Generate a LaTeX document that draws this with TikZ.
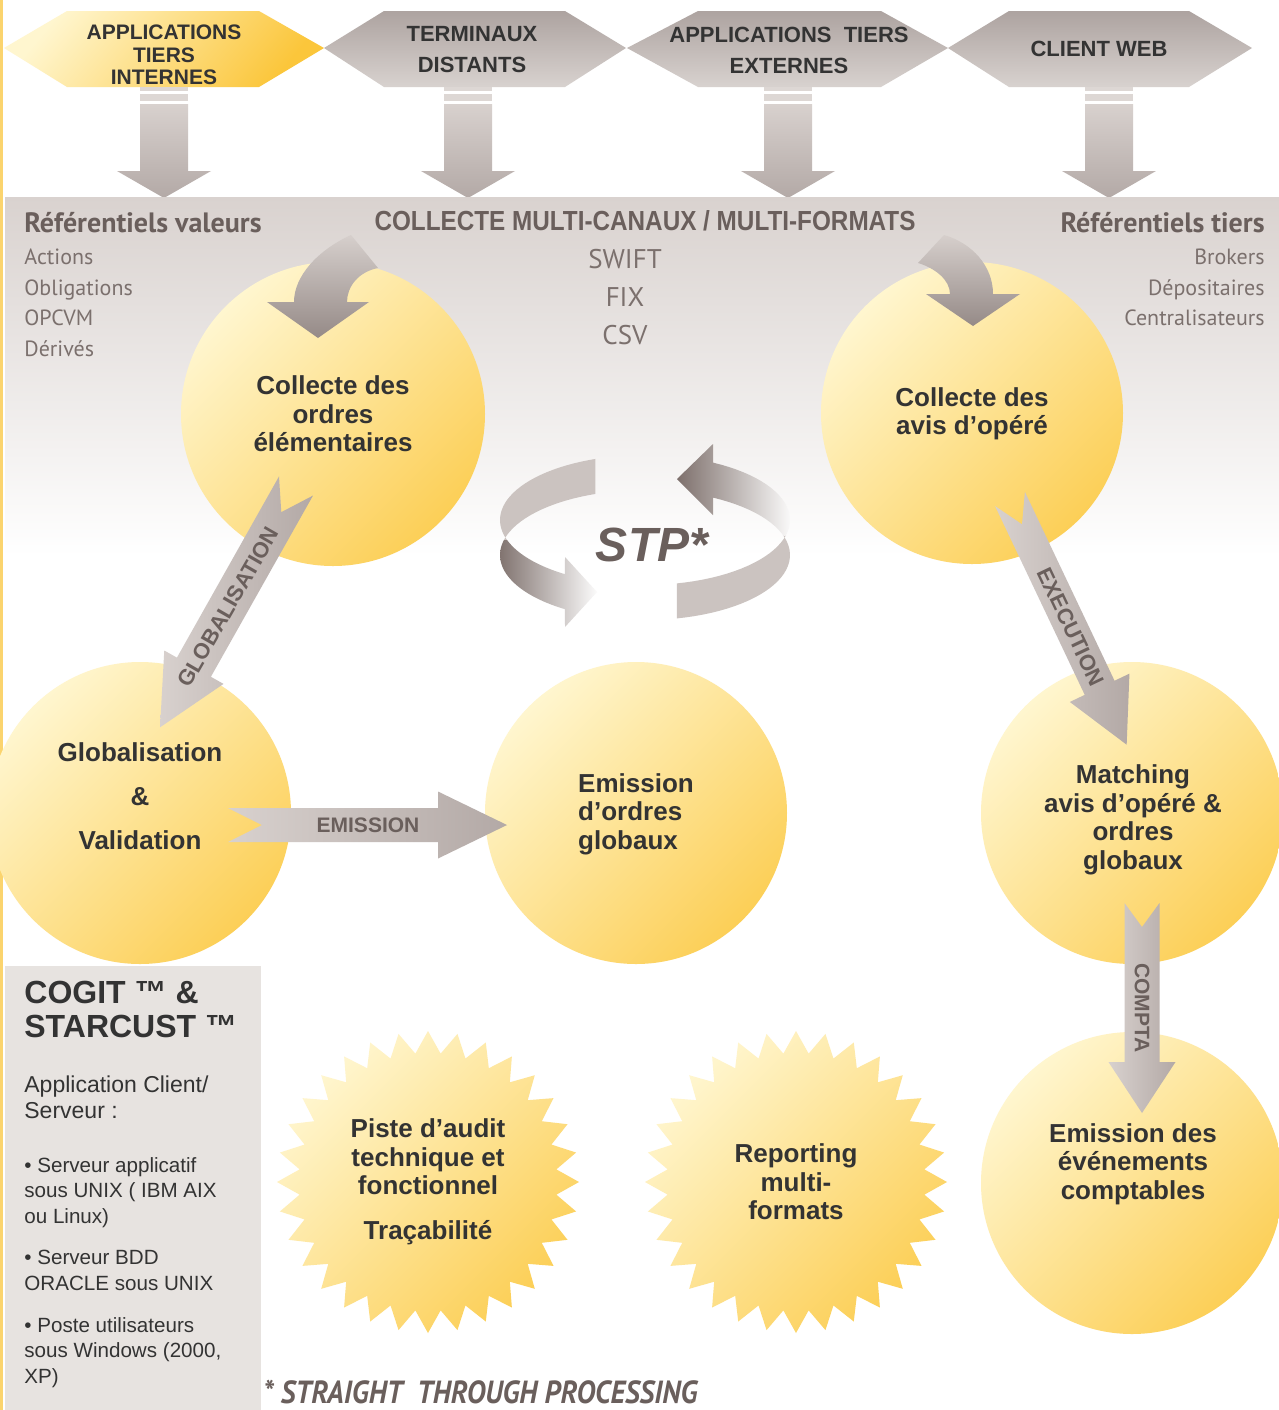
\documentclass[tikz,border=0pt]{standalone}
\usepackage{fontspec}
\setmainfont{Liberation Sans}
\newfontfamily\condfont[FakeStretch=0.88]{Liberation Sans}
\newfontfamily\ptsans{PT Sans}
\newfontfamily\ptsanscond[FakeStretch=0.9]{PT Sans}
\usetikzlibrary{calc}
\definecolor{txtdark}{HTML}{333333}
\definecolor{brownt}{HTML}{6A5F5C}
\definecolor{brownl}{HTML}{7B706D}
\definecolor{hexdark}{HTML}{ADA3A0}
\definecolor{hexlight}{HTML}{D8D2CF}
\definecolor{yelpale}{HTML}{FFF6CF}
\definecolor{yelgold}{HTML}{FCCF57}
\definecolor{hexgold}{HTML}{FBC63B}
\definecolor{bandc}{HTML}{D9D2CF}
\definecolor{arrlight}{HTML}{D8D1CE}
\definecolor{arrdark}{HTML}{B3A9A6}
\definecolor{stripec}{HTML}{DDD7D4}
\definecolor{curvlight}{HTML}{D6CFCC}
\definecolor{curvdark}{HTML}{958A87}
\definecolor{ribdark}{HTML}{7B6D69}
\definecolor{riblight}{HTML}{CBC3C0}
\definecolor{boxgray}{HTML}{E7E3E0}
\definecolor{edgeyel}{HTML}{FBD46E}
% #1 tail coordinate, #2 angle, #3 length, #4 half shaft, #5 half head, #6 head length, #7 notch, #8 style
\newcommand\farrow[8]{%
\begin{scope}[shift={(#1)},rotate=#2]
\shade[#8] (0,#4) -- ({#3-#6},#4) -- ({#3-#6},#5) -- (#3,0) -- ({#3-#6},-#5) -- ({#3-#6},-#4) -- (0,-#4) -- (#7,0) -- cycle;
\end{scope}}
\begin{document}
\begin{tikzpicture}[x=0.5pt,y=-0.5pt,
 hextext/.style={align=center, text=txtdark, inner sep=0, font=\bfseries\fontsize{11}{15.5}\selectfont},
 circtext/.style={align=center, text=txtdark, inner sep=0, font=\bfseries\fontsize{13}{14.25}\selectfont},
 bubble/.style={circle, minimum size=151pt, inner sep=0, top color=yelpale, bottom color=yelgold, shading angle=45},
 arrtext/.style={text=brownt, inner sep=0, font=\bfseries\fontsize{11}{11}\selectfont},
 listl/.style={anchor=base west, inner sep=0, text=brownl, font=\ptsans\fontsize{11}{11}\selectfont},
 listr/.style={anchor=base east, inner sep=0, text=brownl, font=\ptsans\fontsize{11}{11}\selectfont},
 reftitle/.style={inner sep=0, text=brownt, font=\ptsans\bfseries\fontsize{14}{14}\selectfont},
 fmt/.style={anchor=base, inner sep=0, text=brownl, font=\ptsans\fontsize{13.5}{13.5}\selectfont},
 boxtext/.style={anchor=north west, align=left, inner sep=0, text=txtdark},
 fatshade/.style={left color=arrlight, right color=arrdark},
 hexshade/.style={top color=hexdark, bottom color=hexlight},
 startext/.style={align=center, text=txtdark, inner sep=0, font=\bfseries\fontsize{13}{14.25}\selectfont}
]
\useasboundingbox (0,0) rectangle (1279,1410);
\clip (0,0) rectangle (1279,1410);
\fill[white] (0,0) rectangle (1279,1410);
\fill[edgeyel] (0,0) rectangle (2.5,1410);

% ---------- top hexagons ----------
\shade[top color=yelpale, bottom color=hexgold, shading angle=50] (4,48) -- (67,11) -- (259,11) -- (324,48) -- (259,87) -- (67,87) -- cycle;
\shade[hexshade] (324,48) -- (384,11) -- (565,11) -- (626,48) -- (565,87) -- (384,87) -- cycle;
\shade[hexshade] (627,48) -- (698,11) -- (881,11) -- (948,48) -- (881,87) -- (698,87) -- cycle;
\shade[hexshade] (948,48) -- (1009,11) -- (1189,11) -- (1252,48) -- (1189,87) -- (1009,87) -- cycle;
\node[hextext, font=\bfseries\fontsize{10.5}{11.25}\selectfont] (h1) at (164,55) {APPLICATIONS\\TIERS\\INTERNES};
\node[hextext] (h2) at (472,50) {TERMINAUX\\DISTANTS};
\node[hextext] (h3) at (789,50) {APPLICATIONS\ \ TIERS\\EXTERNES};
\node[hextext] (h4) at (1099,49) {CLIENT WEB};

% ---------- down arrows ----------
\foreach \cx in {164,468,788,1109}{
  \fill[stripec] (\cx-24,87) rectangle (\cx+24,91);
  \fill[stripec] (\cx-24,94) rectangle (\cx+24,101);
  \shade[top color=arrlight, bottom color=arrdark] (\cx-24,104) -- (\cx-24,171) -- (\cx-47,171) -- (\cx,198) -- (\cx+47,171) -- (\cx+24,171) -- (\cx+24,104) -- cycle;
}

% ---------- grey band ----------
\shade[top color=bandc, bottom color=white] (5,197) rectangle (1279,556);

% ---------- circles ----------
\node[bubble, minimum size=152pt] (c1) at (333,414) {};
\node[bubble] (c2) at (972,413) {};
\node[bubble] (c3) at (140,813) {};
\node[bubble] (c4) at (636,813) {};
\node[bubble] (c5) at (1132,813) {};
\node[bubble] (c6) at (1132,1183) {};

% ---------- stars ----------
\shade[top color=yelpale, bottom color=yelgold, shading angle=45] plot[domain=0:63,samples=64] ({428+(140+11*cos(\x*180))*cos(\x*5.625+90)},{1182-(140+11*cos(\x*180))*sin(\x*5.625+90)}) -- cycle;
\shade[top color=yelpale, bottom color=yelgold, shading angle=45] plot[domain=0:63,samples=64] ({796+(140+11*cos(\x*180))*cos(\x*5.625+90)},{1182-(140+11*cos(\x*180))*sin(\x*5.625+90)}) -- cycle;

% ---------- curved arrows into the collect circles ----------
\shade[top color=curvlight, bottom color=curvdark] (351,235) .. controls (318,250) and (294,276) .. (294,302) -- (267,302) -- (318,338) -- (369,302) -- (347,302) .. controls (347,287) and (358,272) .. (378,268) -- cycle;
\shade[top color=curvlight, bottom color=curvdark] (918,263) .. controls (935,268) and (950,280) .. (950,294) -- (926,294) -- (973,326) -- (1020,294) -- (993,294) .. controls (993,266) and (972,243) .. (944,235) -- cycle;

% ---------- STP ribbons ----------
\begin{scope}
\clip plot[domain=110:236.5,samples=40] ({645+145*cos(\x)},{520-65*sin(\x)}) -- (565,557) -- (597,592) -- (565,627) -- plot[domain=236.5:110,samples=40] ({645+145*cos(\x)},{555-65*sin(\x)}) -- cycle;
\fill[riblight] (480,430) rectangle (800,540);
\shade[left color=ribdark, right color=white] (495,540) rectangle (600,640);
\end{scope}
\begin{scope}
\clip plot[domain=-77.3:62,samples=40] ({645+145*cos(\x)},{520-65*sin(\x)}) -- (713,444) -- (677,479) -- (713,515) -- plot[domain=62:-77.3,samples=40] ({645+145*cos(\x)},{555-65*sin(\x)}) -- cycle;
\fill[riblight] (600,535) rectangle (800,640);
\shade[left color=ribdark, right color=white] (675,430) rectangle (795,535);
\end{scope}
\node[text=brownt, inner sep=0, font=\bfseries\itshape\fontsize{24}{24}\selectfont] (stp) at (652,545) {STP*};

% ---------- straight fat arrows ----------
\coordinate (gT) at (296,486);
\coordinate (eT) at (1010,499);
\coordinate (mT) at (228,825);
\coordinate (cT) at (1142,903);
\farrow{gT}{240.6}{277}{19.5}{34}{69}{30}{fatshade}
\farrow{eT}{-64.6}{272}{16.5}{33}{63}{28}{fatshade}
\farrow{mT}{0}{279}{17}{33.5}{69}{34}{fatshade}
\farrow{cT}{-90}{210}{17.5}{33.5}{51}{24}{fatshade}
\node[arrtext, rotate=60] (gl) at (228,607) {GLOBALISATION};
\node[arrtext, rotate=-64.6] (ex) at (1071,627) {EXECUTION};
\node[arrtext, font=\bfseries\fontsize{10.5}{10.5}\selectfont] (em) at (368,825) {EMISSION};
\node[arrtext, rotate=-90, font=\bfseries\fontsize{10.5}{10.5}\selectfont] (co) at (1142,1008) {COMPTA};

% ---------- band texts ----------
\node[reftitle, anchor=base west] (rv) at (24,232) {Référentiels valeurs};
\node[listl] (l1) at (24,264) {Actions};
\node[listl] (l2) at (24,295) {Obligations};
\node[listl] (l3) at (24,325) {OPCVM};
\node[listl] (l4) at (24,356) {Dérivés};
\node[reftitle, anchor=base east] (rt) at (1265,232) {Référentiels tiers};
\node[listr] (r1) at (1265,264) {Brokers};
\node[listr] (r2) at (1265,295) {Dépositaires};
\node[listr] (r3) at (1265,325) {Centralisateurs};
\node[anchor=base, inner sep=0, text=brownt, font=\condfont\bfseries\fontsize{13.8}{13.8}\selectfont] (coll) at (645,230.5) {COLLECTE MULTI-CANAUX / MULTI-FORMATS};
\node[fmt] (f1) at (625,268) {SWIFT};
\node[fmt] (f2) at (625,306) {FIX};
\node[fmt] (f3) at (625,344) {CSV};

% ---------- circle texts ----------
\node[circtext] (t1) at (333,414) {Collecte des\\ordres\\élémentaires};
\node[circtext] (t2) at (972,414) {Collecte des\\avis d’opéré};
\node[circtext, font=\bfseries\fontsize{13}{22}\selectfont] (t3) at (140,796) {Globalisation\\\&\\Validation};
\node[circtext, align=left] (t4) at (636,814) {Emission\\d’ordres\\globaux};
\node[circtext] (t5) at (1133,820) {Matching\\avis d’opéré \&\\ordres\\globaux};
\node[circtext] (t6) at (1133,1164) {Emission des\\événements\\comptables};

% ---------- star texts ----------
\node[startext] (s1) at (428,1182) {Piste d’audit\\technique et\\fonctionnel\\[8pt]Traçabilité};
\node[startext] (s2) at (796,1182) {Reporting\\multi-\\formats};

% ---------- bottom-left box ----------
\fill[boxgray] (5,966) rectangle (261,1410);
\node[boxtext, font=\bfseries\fontsize{16}{17}\selectfont] (b1) at (24,981) {COGIT ™ \&\\STARCUST ™};
\node[boxtext, font=\fontsize{11.5}{13}\selectfont] (b2) at (24,1075) {Application Client/\\Serveur :};
\node[boxtext, font=\fontsize{10.3}{12.75}\selectfont] (b3) at (24,1157) {• Serveur applicatif\\sous UNIX ( IBM AIX\\ou Linux)};
\node[boxtext, font=\fontsize{10.3}{12.75}\selectfont] (b4) at (24,1250) {• Serveur BDD\\ORACLE sous UNIX};
\node[boxtext, font=\fontsize{10.3}{12.75}\selectfont] (b5) at (24,1317) {• Poste utilisateurs\\sous Windows (2000,\\XP)};

% ---------- footnote ----------
\node[anchor=base west, inner sep=0, text=brownt, font=\ptsanscond\bfseries\itshape\fontsize{16}{16}\selectfont] (fn) at (263,1403) {* STRAIGHT\ \ THROUGH PROCESSING};
\end{tikzpicture}
\end{document}
